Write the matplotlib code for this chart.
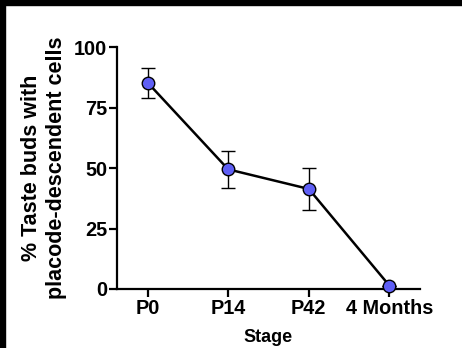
import matplotlib.pyplot as plt
import numpy as np
from matplotlib.patches import Rectangle

plt.rcParams['font.family'] = ['Liberation Sans', 'DejaVu Sans']
plt.rcParams['font.weight'] = 'bold'

# Data
stages = ['P0', 'P14', 'P42', '4 Months']
pct_mean = [85.4, 49.5, 41.4, 1.4]
pct_err = [6.2, 7.8, 8.7, 0.0]

fig = plt.figure(figsize=(4.62, 3.48), dpi=100)
ax = fig.add_axes([117 / 462, 1 - 289 / 348, (420 - 117) / 462, (289 - 47.3) / 348])

x = np.arange(len(stages))
ax.errorbar(x, pct_mean, yerr=pct_err, color='black', lw=1.8, ecolor='black',
            elinewidth=1.0, capsize=5, capthick=1.0, marker='o', ms=9,
            mfc='#5f5ff5', mec='black', mew=1.0, clip_on=False, zorder=3)

ax.set_xlim(-0.38, 3.38)
ax.set_ylim(0, 100)
ax.set_yticks([0, 25, 50, 75, 100])
ax.set_xticks(x)
ax.set_xticklabels(stages)

ax.spines['top'].set_visible(False)
ax.spines['right'].set_visible(False)
ax.spines['left'].set_linewidth(1.6)
ax.spines['bottom'].set_linewidth(1.6)
ax.tick_params(axis='both', width=1.6, length=6, labelsize=14.3, pad=1)

ax.set_xlabel('Stage', fontsize=13, fontweight='bold', labelpad=8)
ax.set_ylabel('% Taste buds with\nplacode-descendent cells', fontsize=15.5,
              fontweight='bold', labelpad=5, linespacing=1.25)

# black frame along top and left edges
fig.patches.append(Rectangle((0, 1 - 5 / 348), 1, 5 / 348, transform=fig.transFigure,
                             color='black', zorder=10))
fig.patches.append(Rectangle((0, 0), 5 / 462, 1, transform=fig.transFigure,
                             color='black', zorder=10))

plt.savefig('out.png', dpi=100)
